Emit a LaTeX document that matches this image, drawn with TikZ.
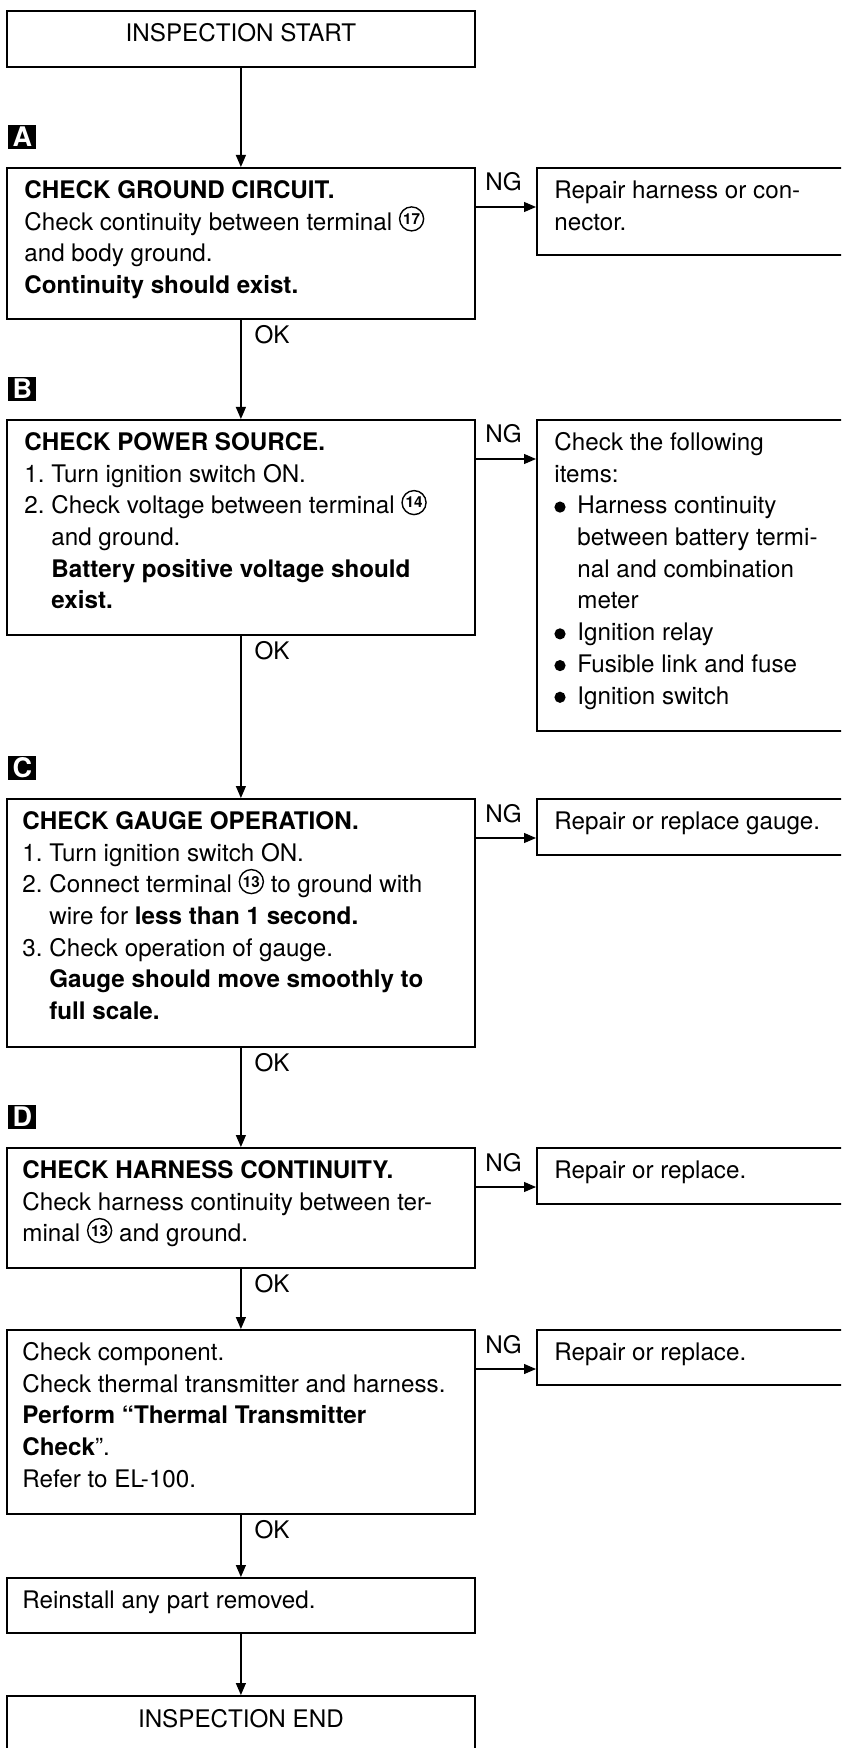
\documentclass[tikz,border=0pt]{standalone}
\usepackage{fontspec}
\setmainfont{TeX Gyre Heros}
\usetikzlibrary{arrows.meta,positioning}
\newcommand{\fst}{\rule{0pt}{9pt}}
\newcommand{\tno}[1]{\tikz[x=1pt,y=1pt,baseline=0pt]{\draw[line width=0.7pt] (0,5.6) circle (6);
    \node[inner sep=0pt,anchor=center,font=\fontsize{7.6}{7.6}\selectfont\bfseries] (num) at (0,5.6) {#1};}}
\newcommand{\numi}[1]{\makebox[13.5pt][l]{#1}}
\newcommand{\stepin}{\hspace*{13.5pt}}
\newcommand{\dotin}{\makebox[11.5pt][l]{\tikz[x=1pt,y=1pt,baseline=-3.4pt]\fill (0,0) circle (2.8);}}
\newcommand{\dotgap}{\hspace*{11.5pt}}

\begin{document}
\begin{tikzpicture}[x=0.5pt,y=-0.5pt,
    box/.style={draw,line width=0.9pt,inner sep=0pt,anchor=north west,minimum width=234pt},
    side/.style={box,minimum width=155pt},
    txt/.style={inner sep=0pt,align=left,font=\fontsize{12.1}{15.85}\selectfont},
    lbl/.style={inner sep=0pt,anchor=base west,font=\fontsize{12.1}{14}\selectfont},
    tag/.style={fill=black,text=white,inner sep=0pt,minimum width=14pt,minimum height=12pt,font=\fontsize{13.5}{13.5}\selectfont\bfseries},
    arr/.style={line width=0.6pt,-{Triangle[length=6pt,width=5pt]}}]
        \useasboundingbox (0,0) rectangle (841,1748);
        \clip (0,0) rectangle (841,1748);
        %Boxes
        \node[box,minimum height=28pt] (start) at (6,10) {};
        \node[box,minimum height=75.5pt] (a) at (6,167) {};
        \node[box,minimum height=107.5pt] (b) at (6,419) {};
        \node[box,minimum height=124pt] (c) at (6,798) {};
        \node[box,minimum height=60pt] (d) at (6,1147) {};
        \node[box,minimum height=92pt] (e) at (6,1329) {};
        \node[box,minimum height=27.5pt] (f) at (6,1577) {};
        \node[box,minimum height=28pt] (finish) at (6,1695) {};
        \node[side,minimum height=43.5pt] (ra) at (536,167) {};
        \node[side,minimum height=155.5pt] (rb) at (536,419) {};
        \node[side,minimum height=28pt] (rc) at (536,798) {};
        \node[side,minimum height=28pt] (rd) at (536,1147) {};
        \node[side,minimum height=27.5pt] (re) at (536,1329) {};
        %Tags
        \node[tag,above right=9pt and 1pt of a.north west] (taga) {A};
        \node[tag,above right=9pt and 1pt of b.north west] (tagb) {B};
        \node[tag,above right=9pt and 1pt of c.north west] (tagc) {C};
        \node[tag,above right=9pt and 1pt of d.north west] (tagd) {D};
        %Texts
        \node[txt,anchor=base] (starttxt) at ([yshift=-16pt]start.north) {INSPECTION START};
        \node[txt,anchor=base] (finishtxt) at ([yshift=-16pt]finish.north) {INSPECTION END};
        \node[txt,below right=6.5pt and 9pt of a.north west] (atxt) {\fst{\bfseries CHECK GROUND CIRCUIT.}\\
            Check continuity between terminal \tno{17}\\
            and body ground.\\
            {\bfseries Continuity should exist.}};
        \node[txt,below right=6.5pt and 9pt of b.north west] (btxt) {\fst{\bfseries CHECK POWER SOURCE.}\\
            \numi{1.}Turn ignition switch ON.\\
            \numi{2.}Check voltage between terminal \tno{14}\\
            \stepin and ground.\\
            \stepin{\bfseries Battery positive voltage should}\\
            \stepin{\bfseries exist.}};
        \node[txt,below right=6.5pt and 8pt of c.north west] (ctxt) {\fst{\bfseries CHECK GAUGE OPERATION.}\\
            \numi{1.}Turn ignition switch ON.\\
            \numi{2.}Connect terminal \tno{13} to ground with\\
            \stepin wire for {\bfseries less than 1 second.}\\
            \numi{3.}Check operation of gauge.\\
            \stepin{\bfseries Gauge should move smoothly to}\\
            \stepin{\bfseries full scale.}};
        \node[txt,below right=6.5pt and 8pt of d.north west] (dtxt) {\fst{\bfseries CHECK HARNESS CONTINUITY.}\\
            Check harness continuity between ter-\\
            minal \tno{13} and ground.};
        \node[txt,below right=6.5pt and 8pt of e.north west] (etxt) {\fst Check component.\\
            Check thermal transmitter and harness.\\
            {\bfseries Perform “Thermal Transmitter}\\
            {\bfseries Check}”.\\
            Refer to EL-100.};
        \node[txt,below right=6.5pt and 8pt of f.north west] (ftxt) {\fst Reinstall any part removed.};
        \node[txt,below right=6.5pt and 9pt of ra.north west] (ratxt) {\fst Repair harness or con-\\
            nector.};
        \node[txt,below right=6.5pt and 9pt of rb.north west] (rbtxt) {\fst Check the following\\
            items:\\
            \dotin Harness continuity\\
            \dotgap between battery termi-\\
            \dotgap nal and combination\\
            \dotgap meter\\
            \dotin Ignition relay\\
            \dotin Fusible link and fuse\\
            \dotin Ignition switch};
        \node[txt,below right=6.5pt and 9pt of rc.north west] (rctxt) {\fst Repair or replace gauge.};
        \node[txt,below right=6.5pt and 9pt of rd.north west] (rdtxt) {\fst Repair or replace.};
        \node[txt,below right=6.5pt and 9pt of re.north west] (retxt) {\fst Repair or replace.};
        %Arrows OK
        \draw[arr] (start.south) -- (a.north);
        \draw[arr] (a.south) -- (b.north) node[lbl,pos=0,xshift=6.5pt,yshift=-12pt] {OK};
        \draw[arr] (b.south) -- (c.north) node[lbl,pos=0,xshift=6.5pt,yshift=-12pt] {OK};
        \draw[arr] (c.south) -- (d.north) node[lbl,pos=0,xshift=6.5pt,yshift=-12pt] {OK};
        \draw[arr] (d.south) -- (e.north) node[lbl,pos=0,xshift=6.5pt,yshift=-12pt] {OK};
        \draw[arr] (e.south) -- (f.north) node[lbl,pos=0,xshift=6.5pt,yshift=-12pt] {OK};
        \draw[arr] (f.south) -- (finish.north);
        %Arrows NG
        \draw[arr] ([yshift=-20pt]a.north east) -- ([yshift=-20pt]ra.north west) node[lbl,pos=0,xshift=4.5pt,yshift=8pt] {NG};
        \draw[arr] ([yshift=-20pt]b.north east) -- ([yshift=-20pt]rb.north west) node[lbl,pos=0,xshift=4.5pt,yshift=8pt] {NG};
        \draw[arr] ([yshift=-20pt]c.north east) -- ([yshift=-20pt]rc.north west) node[lbl,pos=0,xshift=4.5pt,yshift=8pt] {NG};
        \draw[arr] ([yshift=-20pt]d.north east) -- ([yshift=-20pt]rd.north west) node[lbl,pos=0,xshift=4.5pt,yshift=8pt] {NG};
        \draw[arr] ([yshift=-20pt]e.north east) -- ([yshift=-20pt]re.north west) node[lbl,pos=0,xshift=4.5pt,yshift=8pt] {NG};
\end{tikzpicture}
\end{document}
